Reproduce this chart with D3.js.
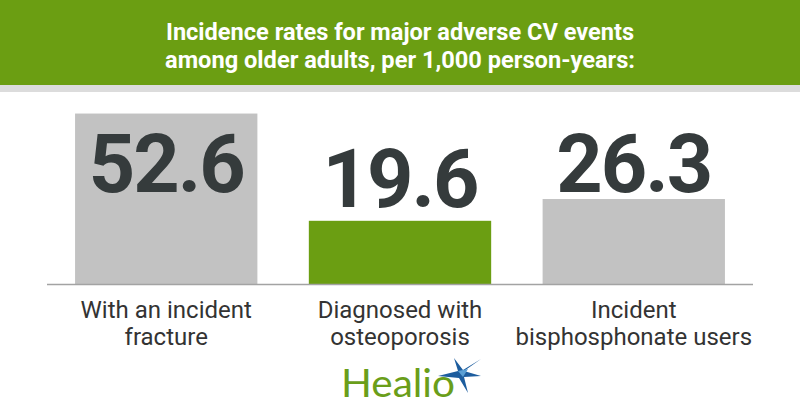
<!DOCTYPE html>
<html>
<head>
<meta charset="utf-8">
<script src="https://cdn.jsdelivr.net/npm/d3@7"></script>
<style>
  html, body { margin: 0; padding: 0; background: #fff; }
  svg { display: block; }
</style>
</head>
<body>
<svg id="chart" width="800" height="420"></svg>
<script>
// ---- data ----
const categories = ["With an incident fracture", "Diagnosed with osteoporosis", "Incident bisphosphonate users"];
const labelLines = [["With an incident", "fracture"], ["Diagnosed with", "osteoporosis"], ["Incident", "bisphosphonate users"]];
const values = [52.6, 19.6, 26.3];
const valueLabels = ["52.6", "19.6", "26.3"];
const barColors = ["#c2c2c2", "#6b9e12", "#c2c2c2"];
const titleLines = ["Incidence rates for major adverse CV events", "among older adults, per 1,000 person-years:"];

const svg = d3.select("#chart");
const W = 800, H = 420;

// header
svg.append("rect").attr("x", 0).attr("y", 0).attr("width", W).attr("height", 85).attr("fill", "#6b9e12");
svg.append("rect").attr("x", 0).attr("y", 85).attr("width", W).attr("height", 7).attr("fill", "#dcdcdc");

const titleY = [40, 68];
titleLines.forEach((t, i) => {
  svg.append("text")
    .attr("x", 400).attr("y", titleY[i])
    .attr("text-anchor", "middle")
    .attr("font-family", "Roboto, sans-serif")
    .attr("font-weight", 700)
    .attr("font-size", 24.5)
    .attr("fill", "#ffffff")
    .attr("textLength", i === 0 ? 468 : 470)
    .attr("lengthAdjust", "spacingAndGlyphs")
    .text(t);
});

// scales
const baseY = 284.5;
const x = d3.scaleBand().domain(categories).range([47, 753]).paddingInner(0.22).paddingOuter(0.12);
const y = d3.scaleLinear().domain([0, 60]).range([baseY, baseY - 195]);

// bars
svg.selectAll("rect.bar").data(values).enter().append("rect")
  .attr("class", "bar")
  .attr("x", (d, i) => x(categories[i]))
  .attr("y", d => y(d))
  .attr("width", x.bandwidth())
  .attr("height", d => y(0) - y(d))
  .attr("fill", (d, i) => barColors[i]);

// baseline
svg.append("line")
  .attr("x1", 47).attr("x2", 753)
  .attr("y1", baseY).attr("y2", baseY)
  .attr("stroke", "#a3a3a3").attr("stroke-width", 1.5);

// value labels
svg.selectAll("text.val").data(values).enter().append("text")
  .attr("class", "val")
  .attr("x", (d, i) => x(categories[i]) + x.bandwidth() / 2)
  .attr("y", d => Math.max(y(d) - 14, 192))
  .attr("text-anchor", "middle")
  .attr("font-family", "Roboto, sans-serif")
  .attr("font-weight", 700)
  .attr("font-size", 81)
  .attr("letter-spacing", -2)
  .attr("fill", "#353b3c")
  .text((d, i) => valueLabels[i]);

// category labels
labelLines.forEach((lines, i) => {
  const cx = x(categories[i]) + x.bandwidth() / 2;
  const t = svg.append("text")
    .attr("text-anchor", "middle")
    .attr("font-family", "Roboto, sans-serif")
    .attr("font-size", 24)
    .attr("fill", "#333333");
  lines.forEach((ln, j) => {
    t.append("tspan").attr("x", cx).attr("y", 318 + j * 27).text(ln);
  });
});

// Healio logo
svg.append("text")
  .attr("x", 341).attr("y", 397)
  .attr("font-family", "Lato, 'Open Sans', sans-serif")
  .attr("font-size", 38)
  .attr("fill", "#6a9e1a")
  .attr("textLength", 114)
  .attr("lengthAdjust", "spacingAndGlyphs")
  .text("Healio");

// star
const cx = 461, cy = 374;
const star = d3.path();
star.moveTo(cx + 20, cy - 15);   // upper-right point
star.lineTo(cx + 3, cy - 3);
star.lineTo(cx + 20, cy + 2);    // right point
star.lineTo(cx + 3, cy + 3);
star.lineTo(cx + 7, cy + 19);    // lower point
star.lineTo(cx - 2, cy + 4);
star.lineTo(cx - 23, cy + 2);    // long left point
star.lineTo(cx - 3, cy - 3);
star.lineTo(cx - 7, cy - 16);    // upper-left point
star.lineTo(cx + 2, cy - 4);
star.closePath();
svg.append("path").attr("d", star.toString()).attr("fill", "#1d5d9e");
svg.append("path")
  .attr("d", `M${cx-3},${cy-3} L${cx+7},${cy-5} L${cx+2},${cy+3} Z`)
  .attr("fill", "#5a9fd4");
</script>
</body>
</html>
